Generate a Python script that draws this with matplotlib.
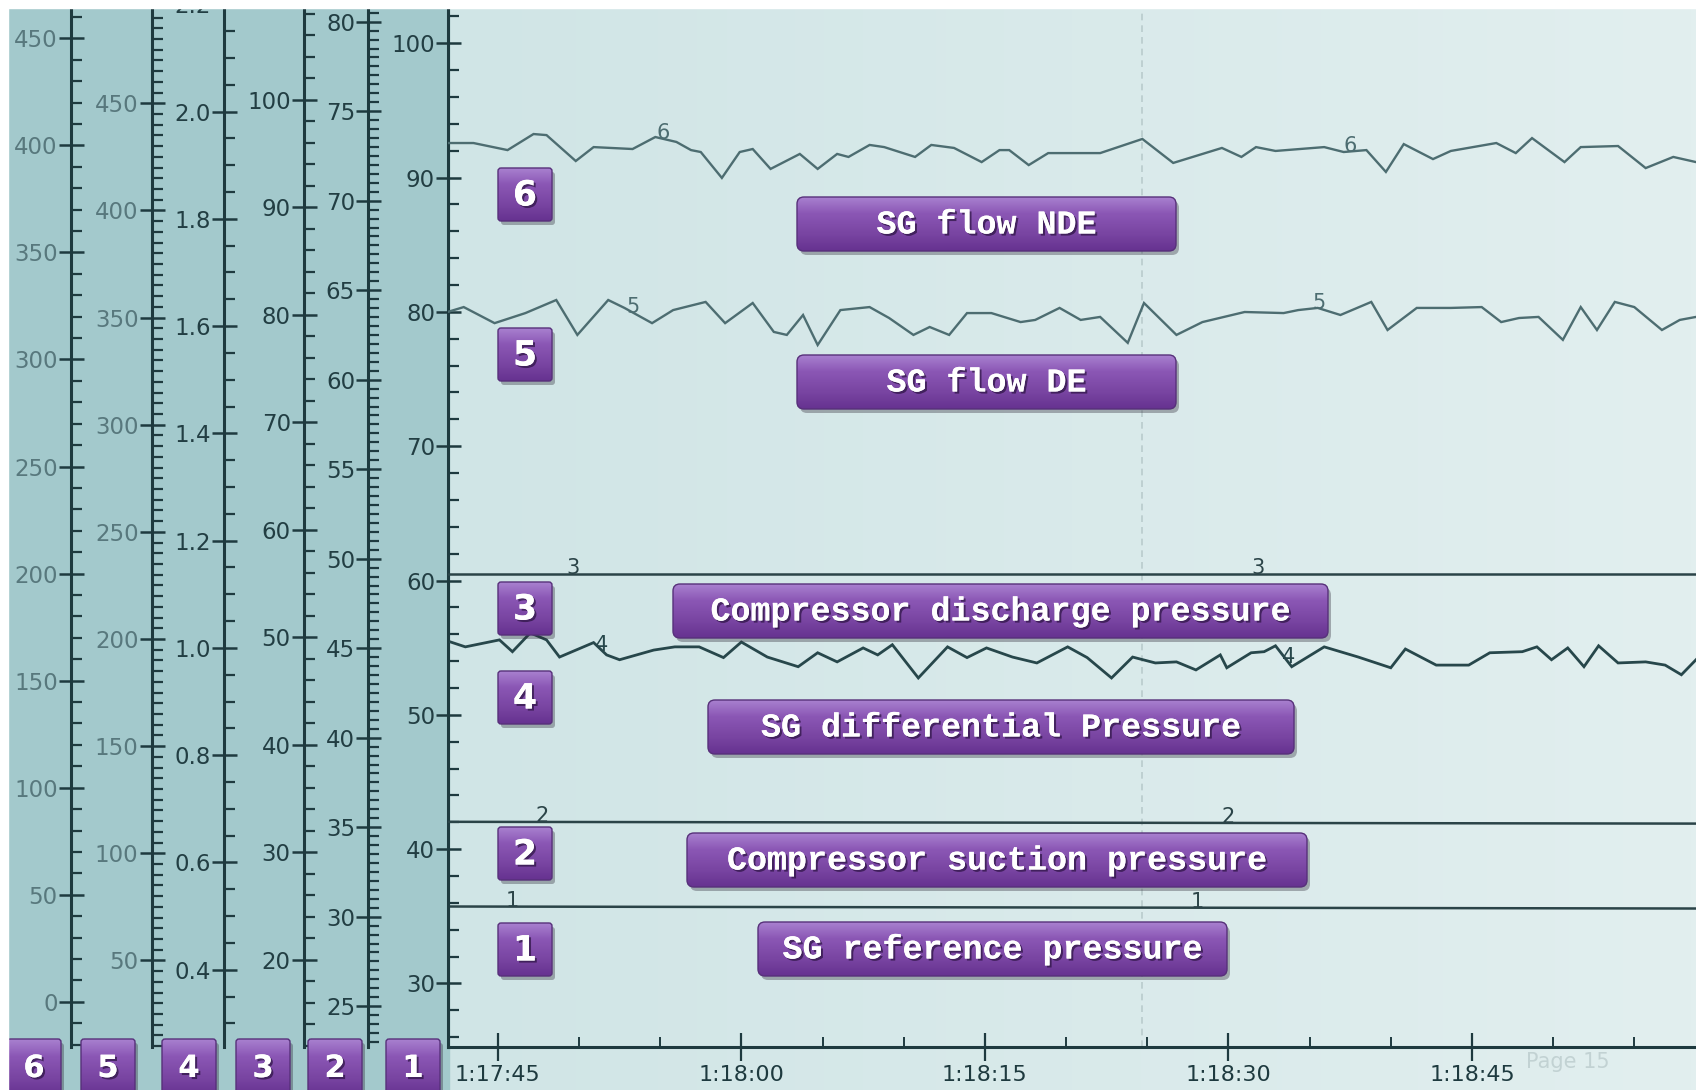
import numpy as np
import matplotlib
matplotlib.use("Agg")
import matplotlib.pyplot as plt
from matplotlib.patches import FancyBboxPatch, Rectangle
from matplotlib.colors import LinearSegmentedColormap
from matplotlib.ticker import MultipleLocator, FuncFormatter
import matplotlib.patheffects as pe

W, H = 1696, 1090

# time axis: seconds after 1:17:00
T_NDE = [41.9, 43.5, 45.6, 47.2, 48.0, 49.8, 50.9, 53.3, 54.7, 56.0, 56.9, 57.5, 58.8, 59.9,
         60.7, 61.8, 63.6, 64.7, 65.9, 66.6, 67.9, 68.8, 70.7, 71.7, 73.1, 74.8, 75.9, 76.5,
         77.7, 78.9, 80.9, 82.1, 84.7, 86.6, 89.6, 90.8, 91.7, 92.9, 95.9, 97.1, 98.5, 99.7,
         100.8, 102.6, 103.7, 106.5, 107.7, 108.7, 110.7, 111.7, 114.0, 115.7, 117.4, 118.8]
FLOW_NDE = [401.1, 401.1, 397.8, 405.3, 404.8, 392.7, 399.2, 398.3, 403.9, 401.6, 397.8, 396.9,
            384.8, 396.9, 398.3, 389.0, 396.0, 389.0, 396.0, 394.6, 400.2, 399.2, 394.6, 400.2,
            398.8, 392.2, 397.8, 397.8, 390.8, 396.4, 396.4, 396.4, 403.0, 391.8, 398.8, 394.6,
            399.2, 397.4, 399.2, 396.9, 397.8, 387.6, 400.6, 393.6, 397.4, 401.1, 396.4, 403.4,
            392.2, 399.2, 399.7, 389.4, 394.6, 392.2]

T_DE = [41.9, 42.9, 44.8, 46.7, 48.6, 49.9, 51.8, 52.8, 54.5, 55.8, 57.8, 59.0, 60.7, 62.0,
        62.8, 63.8, 64.7, 66.1, 67.9, 69.1, 70.6, 71.6, 72.8, 73.9, 75.4, 77.2, 78.1, 79.6,
        80.9, 82.1, 83.8, 84.8, 86.8, 88.4, 91.0, 93.4, 94.3, 95.5, 96.9, 98.8, 99.8, 101.6,
        103.7, 105.6, 106.8, 107.9, 109.1, 110.6, 111.7, 112.7, 113.8, 115.0, 116.7, 117.8, 118.8]
FLOW_DE = [352.6, 354.9, 347.4, 352.1, 358.2, 341.9, 358.2, 354.5, 347.4, 353.5, 357.3, 347.4,
           356.8, 343.3, 341.9, 351.2, 337.2, 353.5, 354.9, 349.8, 341.9, 345.6, 341.9, 352.1,
           352.1, 347.9, 348.9, 354.5, 348.9, 350.3, 338.2, 356.8, 341.9, 347.9, 352.6, 352.1,
           353.5, 354.5, 351.2, 357.3, 344.2, 354.5, 354.5, 354.9, 347.9, 349.8, 350.3, 339.6,
           354.9, 344.2, 357.3, 354.9, 344.2, 348.9, 350.3]

T_DP = [42.1, 43.0, 45.1, 45.9, 47.0, 48.0, 48.8, 50.9, 51.7, 52.5, 54.6, 55.9, 57.4, 58.9,
        60.0, 61.6, 63.5, 64.7, 65.9, 67.5, 68.4, 69.3, 70.9, 72.7, 73.9, 75.1, 76.7, 78.2,
        80.1, 81.3, 82.8, 84.1, 85.5, 86.8, 88.0, 89.5, 89.9, 91.4, 92.2, 92.9, 93.9, 95.9,
        98.0, 100.0, 100.9, 102.8, 104.8, 106.1, 108.1, 109.0, 109.9, 110.9, 111.9, 112.8,
        114.0, 115.7, 116.9, 117.9, 118.8]
DIFF_P = [1.011, 1.002, 1.015, 0.993, 1.028, 1.015, 0.983, 1.010, 0.987, 0.978, 0.996, 1.002,
          1.002, 0.982, 1.011, 0.983, 0.965, 0.991, 0.974, 1.000, 0.987, 1.006, 0.944, 1.002,
          0.982, 1.000, 0.983, 0.972, 1.002, 0.982, 0.944, 0.983, 0.972, 0.974, 0.959, 0.987,
          0.963, 0.991, 0.993, 1.004, 0.965, 1.002, 0.983, 0.963, 0.998, 0.968, 0.968, 0.991,
          0.993, 1.002, 0.978, 1.000, 0.965, 1.004, 0.972, 0.974, 0.968, 0.950, 0.978]

T_FLAT = [41.9, 118.8]
DISCHARGE_P = [55.9, 55.9]
SUCTION_P = [35.3, 35.2]
REFERENCE_P = [35.73, 35.58]

# where the recorder printed the channel number on each trace
MARK_T = {6: [55.2, 97.5], 5: [53.3, 95.6], 4: [51.4, 93.7],
          3: [49.6, 91.8], 2: [47.7, 90.0], 1: [45.9, 88.1]}
CURSOR_T = 84.7

TIME_TICKS = [45, 60, 75, 90, 105]

LABELS = {6: "SG flow NDE", 5: "SG flow DE", 3: "Compressor discharge pressure",
          4: "SG differential Pressure", 2: "Compressor suction pressure",
          1: "SG reference pressure"}

INK = "#1e3a3f"
LAB_LIGHT = "#58787d"
LAB_DARK = "#223e43"
STRIP_BG = "#a3c9cc"
PLOT_L, PLOT_R = "#d0e5e6", "#e2efef"

fig = plt.figure(figsize=(W / 100, H / 100), dpi=100, facecolor="white")

# scanned paper background
bg = fig.add_axes([0, 0, 1, 1], zorder=-10)
bg.axis("off")
bg.add_patch(Rectangle((8, 0), 441, H, color=STRIP_BG))
bg.imshow(np.linspace(0, 1, 256).reshape(1, -1), extent=(449, W, H, 0), aspect="auto",
          cmap=LinearSegmentedColormap.from_list("paper", [PLOT_L, PLOT_R]))
bg.set_xlim(0, W)
bg.set_ylim(H, 0)

AX_BOTTOM = 1047  # px from top
X1 = 448.3


def style_y(ax, lim, major, minor, fmt, lab_color):
    ax.set_ylim(*lim)
    ax.yaxis.set_major_locator(MultipleLocator(major))
    ax.yaxis.set_minor_locator(MultipleLocator(minor))
    ax.yaxis.set_major_formatter(FuncFormatter(lambda v, p: fmt.format(abs(v) if abs(v) < 1e-9 else v)))
    ax.tick_params(axis="y", which="major", direction="inout", length=18, width=1.8,
                   color=INK, labelcolor=lab_color, labelsize=16.5, pad=0.5)
    ax.tick_params(axis="y", which="minor", direction="in", length=8, width=1.6, color=INK)
    ax.spines["left"].set_color(INK)
    ax.spines["left"].set_linewidth(2.2)


# channel scales: spine x in px, y limits, major step, minor step, label format, label colour
scales = {
    6: (71, (-21.1, 467.9), 50, 10, "{:.0f}", LAB_LIGHT),
    5: (151.7, (9.6, 498.2), 50, 5, "{:.0f}", LAB_LIGHT),
    4: (224, (0.256, 2.208), 0.2, 0.05, "{:.1f}", LAB_DARK),
    3: (304, (11.9, 109.3), 10, 2, "{:.0f}", LAB_DARK),
    2: (368.3, (22.72, 81.21), 5, 0.5, "{:.0f}", LAB_DARK),
    1: (X1, (25.27, 103.22), 10, 2, "{:.0f}", LAB_DARK),
}

for ch in [6, 5, 4, 3, 2]:
    x, lim, mj, mn, fmt, col = scales[ch]
    sa = fig.add_axes([x / W, (H - AX_BOTTOM) / H, 1e-4, AX_BOTTOM / H])
    sa.set_facecolor("none")
    for s in ["right", "top", "bottom"]:
        sa.spines[s].set_visible(False)
    sa.set_xticks([])
    style_y(sa, lim, mj, mn, fmt, col)

ax1 = fig.add_axes([X1 / W, (H - AX_BOTTOM) / H, 1 - X1 / W, AX_BOTTOM / H])
ax1.set_facecolor("none")
ax1.spines["top"].set_visible(False)
ax1.spines["right"].set_visible(False)
ax1.spines["bottom"].set_color(INK)
ax1.spines["bottom"].set_linewidth(2.2)
x, lim, mj, mn, fmt, col = scales[1]
style_y(ax1, lim, mj, mn, fmt, col)

ax1.set_xlim(41.95, 118.8)
ax1.set_xticks(TIME_TICKS)
ax1.xaxis.set_minor_locator(MultipleLocator(5))
ax1.xaxis.set_major_formatter(FuncFormatter(
    lambda t, p: f"1:{17 + int(round(t)) // 60}:{int(round(t)) % 60:02d}"))
ax1.tick_params(axis="x", which="major", direction="inout", length=20, width=1.6,
                color=INK, labelcolor=INK, labelsize=16, pad=3)
ax1.tick_params(axis="x", which="minor", direction="in", length=7, width=1.4, color=INK)

ax1.axvline(CURSOR_T, color="#b9cbcc", lw=1.2, ls=(0, (4, 3)), zorder=0.5)

# every trace on its own scale, sharing the time axis
series = {6: (T_NDE, FLOW_NDE, "#4d6d71", 1.7), 5: (T_DE, FLOW_DE, "#4d6d71", 1.7),
          4: (T_DP, DIFF_P, "#27474b", 2.0), 3: (T_FLAT, DISCHARGE_P, "#2b4448", 1.8),
          2: (T_FLAT, SUCTION_P, "#2b4448", 1.8), 1: (T_FLAT, REFERENCE_P, "#2b4448", 1.8)}

for ch, (t, v, c, lw) in series.items():
    if ch == 1:
        a = ax1
    else:
        a = ax1.twinx()
        a.set_ylim(*scales[ch][1])
        a.axis("off")
    a.plot(t, v, color=c, lw=lw, solid_joinstyle="miter", zorder=2)
    for tm in MARK_T[ch]:
        a.annotate(str(ch), (tm, np.interp(tm, t, v)), xytext=(0, 4), textcoords="offset points",
                   ha="center", va="center", fontsize=15, color=c, zorder=3)

# purple label boxes drawn in pixel coordinates
ov = fig.add_axes([0, 0, 1, 1], zorder=30)
ov.axis("off")
box_cmap = LinearSegmentedColormap.from_list(
    "box", [(0, "#a880cf"), (0.3, "#8b57b5"), (0.7, "#7844a1"), (1, "#663290")])
grad = np.linspace(0, 1, 64).reshape(-1, 1)


def purple_box(x0, y0, x1, y1, text, size, family, r=7):
    sh = FancyBboxPatch((x0 + 3, y0 + 4), x1 - x0, y1 - y0,
                        boxstyle=f"round,pad=0,rounding_size={r}",
                        fc="#2c2836", ec="none", alpha=0.35, zorder=1)
    ov.add_patch(sh)
    box = FancyBboxPatch((x0, y0), x1 - x0, y1 - y0,
                         boxstyle=f"round,pad=0,rounding_size={r}",
                         fc="none", ec="#57307a", lw=1.0, zorder=3)
    ov.add_patch(box)
    im = ov.imshow(grad, extent=(x0, x1, y1, y0), cmap=box_cmap, aspect="auto", zorder=2)
    im.set_clip_path(box)
    ov.text((x0 + x1) / 2, (y0 + y1) / 2 + 1, text, ha="center", va="center", color="white",
            fontsize=size, fontweight="bold", family=family, zorder=4,
            path_effects=[pe.withSimplePatchShadow(offset=(1.5, -1.5), shadow_rgbFace="#2a1240",
                                                    alpha=0.7), pe.Normal()])


label_boxes = {6: (797, 197, 1176, 251), 5: (797, 355, 1176, 409), 3: (673, 584, 1328, 638),
               4: (708, 700, 1294, 754), 2: (687, 833, 1307, 887), 1: (758, 922, 1227, 976)}
number_y = {6: 168, 5: 328, 3: 582, 4: 671, 2: 827, 1: 923}
bottom_x = {6: 7, 5: 81, 4: 162, 3: 236, 2: 308, 1: 386}

for ch, (bx0, by0, bx1, by1) in label_boxes.items():
    purple_box(bx0, by0, bx1, by1, LABELS[ch], 24, "Liberation Mono")
    purple_box(498, number_y[ch], 552, number_y[ch] + 53, str(ch), 25, "DejaVu Sans", r=3)
    purple_box(bottom_x[ch], 1039, bottom_x[ch] + 54, 1096, str(ch), 22, "DejaVu Sans", r=3)

ov.text(1568, 1062, "Page 15", color="#c2d2d3", fontsize=15, ha="center", va="center", zorder=1)

# white scanner margin
ov.add_patch(Rectangle((0, 0), W, 8, color="white", zorder=10))
ov.add_patch(Rectangle((0, 0), 8, H, color="white", zorder=10))
ov.set_xlim(0, W)
ov.set_ylim(H, 0)

fig.savefig("out.png", dpi=100)
